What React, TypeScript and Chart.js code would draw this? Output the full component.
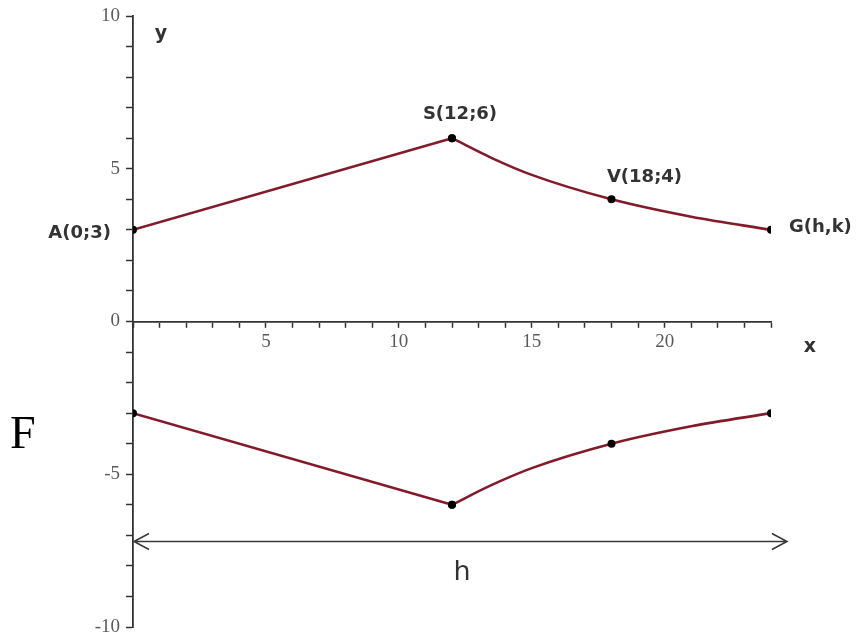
import React, { useEffect, useRef } from "react";
import { Chart, registerables } from "chart.js";

Chart.register(...registerables);

// ---- data ----
const pointNames = ["A", "S", "V", "G"];
const xValues = [0, 12, 13.5, 15, 18, 21, 24];
const upperY = [3, 6, 5.35, 4.8, 4, 3.43, 3];
const lowerY = [-3, -6, -5.35, -4.8, -4, -3.43, -3];
const markedPoint = [true, true, false, false, true, false, true];
const pointLabels = ["A(0;3)", "S(12;6)", "V(18;4)", "G(h,k)"];
const xRange = [0, 24];
const yRange = [-10, 10];
const xLabelTicks = [5, 10, 15, 20];
const yLabelTicks = [-10, -5, 0, 5, 10];
const arrowFrom = 0;
const arrowTo = 24.6;
const arrowY = -7.2;
const arrowLabel = "h";
const sideLetter = "F";
const axisNames = ["x", "y"];

const LINE_COLOR = "#831a2a";

function seg(ys: number[], from: number, to: number) {
  const out: { x: number; y: number }[] = [];
  for (let i = from; i <= to; i++) out.push({ x: xValues[i], y: ys[i] });
  return out;
}
function radii(from: number, to: number) {
  const out: number[] = [];
  for (let i = from; i <= to; i++) out.push(markedPoint[i] ? 4 : 0);
  return out;
}

const annotationPlugin = {
  id: "annotations",
  afterDatasetsDraw(chart: any) {
    const { ctx } = chart;
    const xs = chart.scales.x;
    const ys = chart.scales.y;
    const px = (v: number) => xs.getPixelForValue(v);
    const py = (v: number) => ys.getPixelForValue(v);
    ctx.save();

    // point labels
    ctx.fillStyle = "#333";
    ctx.font = "bold 18px 'DejaVu Sans'";
    ctx.textBaseline = "middle";
    const iA = 0, iS = 1, iV = 4, iG = 6;
    ctx.textAlign = "right";
    ctx.fillText(pointLabels[0], px(xValues[iA]) - 22, py(upperY[iA]) + 3);
    ctx.textAlign = "center";
    ctx.fillText(pointLabels[1], px(xValues[iS]) + 8, py(upperY[iS]) - 24);
    ctx.fillText(pointLabels[2], px(xValues[iV]) + 33, py(upperY[iV]) - 22);
    ctx.textAlign = "left";
    ctx.fillText(pointLabels[3], px(xValues[iG]) + 18, py(upperY[iG]) - 3);

    // axis names
    ctx.font = "bold 19px 'DejaVu Sans'";
    ctx.textAlign = "center";
    ctx.fillText(axisNames[1], px(0) + 28, py(yRange[1]) + 18);
    ctx.fillText(axisNames[0], px(xRange[1]) + 39, py(0) + 26);

    // double arrow
    const y0 = py(arrowY);
    const xa = px(arrowFrom) + 1;
    const xb = px(arrowTo);
    ctx.strokeStyle = "#3a3a3a";
    ctx.lineWidth = 1.6;
    ctx.beginPath();
    ctx.moveTo(xa, y0);
    ctx.lineTo(xb, y0);
    ctx.moveTo(xa + 15, y0 - 8);
    ctx.lineTo(xa, y0);
    ctx.lineTo(xa + 15, y0 + 8);
    ctx.moveTo(xb - 15, y0 - 8);
    ctx.lineTo(xb, y0);
    ctx.lineTo(xb - 15, y0 + 8);
    ctx.stroke();

    ctx.fillStyle = "#333";
    ctx.font = "27px 'DejaVu Sans'";
    ctx.textAlign = "center";
    ctx.fillText(arrowLabel, (px(arrowFrom) + px(arrowTo)) / 2 + 2, y0 + 32);

    // F
    ctx.fillStyle = "#000";
    ctx.font = "46px 'Liberation Serif'";
    ctx.textAlign = "left";
    ctx.fillText(sideLetter, 10, py(-3.75));

    ctx.restore();
  },
};

export default function App() {
  const ref = useRef<HTMLCanvasElement | null>(null);
  useEffect(() => {
    if (!ref.current) return;
    const common = {
      borderColor: LINE_COLOR,
      borderWidth: 2.6,
      pointBackgroundColor: "#000",
      pointBorderColor: "#000",
      pointBorderWidth: 0,
      fill: false,
    };
    const zeroPad = (s: any) => {
      s.paddingTop = 0;
      s.paddingBottom = 0;
      s.paddingLeft = 0;
      s.paddingRight = 0;
    };
    const last = xValues.length - 1;
    const chart = new Chart(ref.current, {
      type: "line",
      data: {
        datasets: [
          { ...common, label: pointNames[0] + pointNames[1], data: seg(upperY, 0, 1), pointRadius: radii(0, 1), tension: 0 },
          { ...common, label: pointNames[1] + pointNames[3], data: seg(upperY, 1, last), pointRadius: radii(1, last), cubicInterpolationMode: "monotone" },
          { ...common, label: "low1", data: seg(lowerY, 0, 1), pointRadius: radii(0, 1), tension: 0 },
          { ...common, label: "low2", data: seg(lowerY, 1, last), pointRadius: radii(1, last), cubicInterpolationMode: "monotone" },
        ] as any,
      },
      options: {
        animation: false,
        responsive: false,
        devicePixelRatio: 1,
        layout: { padding: { left: 0, top: 16, right: 89, bottom: 8 } },
        plugins: { legend: { display: false }, tooltip: { enabled: false } },
        scales: {
          x: {
            type: "linear",
            min: xRange[0],
            max: xRange[1],
            position: { y: 0 } as any,
            afterFit: (s: any) => {
              s.height = 0;
              zeroPad(s);
            },
            grid: {
              drawOnChartArea: false,
              drawTicks: true,
              tickLength: 5,
              tickColor: "#333",
              tickWidth: 1.5,
            },
            border: { display: true, color: "#333", width: 1.8 },
            ticks: {
              stepSize: 1,
              autoSkip: false,
              maxRotation: 0,
              padding: 4,
              color: "#5a5a5a",
              font: { family: "'Liberation Serif'", size: 19 },
              callback: (v: any) => (xLabelTicks.includes(Number(v)) ? String(v) : ""),
            },
          },
          y: {
            type: "linear",
            min: yRange[0],
            max: yRange[1],
            position: "left",
            afterFit: (s: any) => {
              s.width = 133;
              zeroPad(s);
            },
            grid: {
              drawOnChartArea: false,
              drawTicks: true,
              tickLength: 7,
              tickColor: "#333",
              tickWidth: 1.5,
            },
            border: { display: true, color: "#333", width: 1.8 },
            ticks: {
              stepSize: 1,
              autoSkip: false,
              padding: 6,
              color: "#5a5a5a",
              font: { family: "'Liberation Serif'", size: 19 },
              callback: (v: any) => (yLabelTicks.includes(Number(v)) ? String(v) : ""),
            },
          },
        },
      },
      plugins: [annotationPlugin],
    });
    return () => chart.destroy();
  }, []);
  return (
    <canvas
      ref={ref}
      width={860}
      height={635}
      style={{ position: "fixed", left: 0, top: 0, width: 860, height: 635, display: "block", background: "#fff" }}
    />
  );
}
